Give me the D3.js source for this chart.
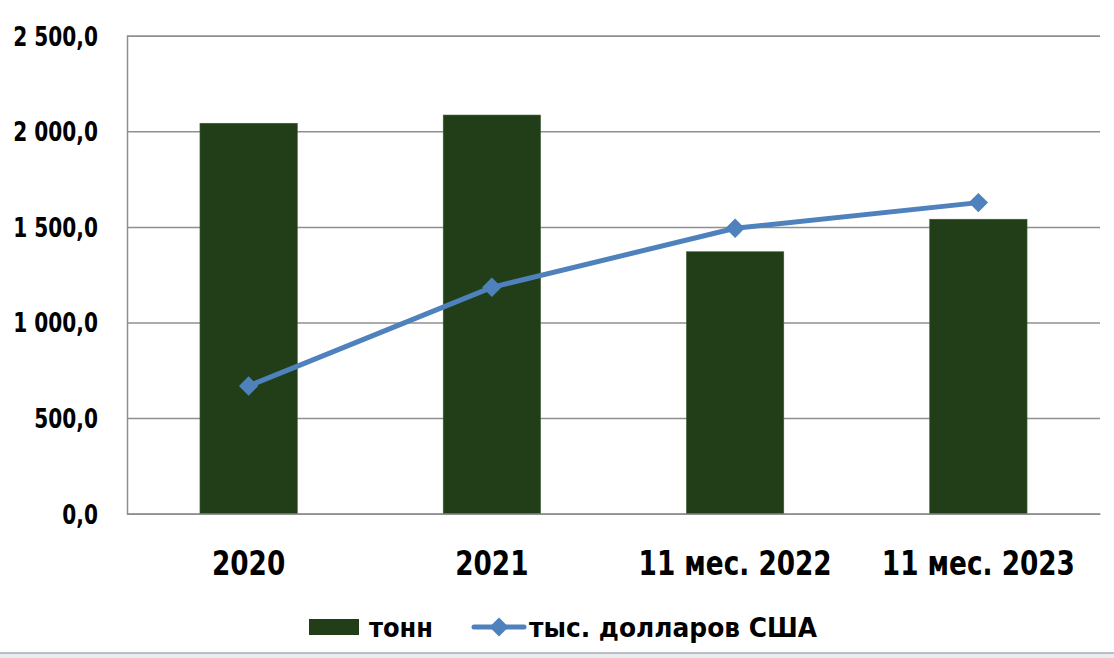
<!DOCTYPE html>
<html><head><meta charset="utf-8">
<script src="https://cdn.jsdelivr.net/npm/d3@7"></script>
<style>
html,body{margin:0;padding:0;background:#fff;}
svg{display:block;}
text{font-family:"DejaVu Sans Condensed","DejaVu Sans",sans-serif;font-weight:bold;fill:#000;}
</style></head>
<body><svg id="c" width="1114" height="658"></svg>
<script>
const categories = ["2020", "2021", "11 мес. 2022", "11 мес. 2023"];
const tonnes = [2042, 2085, 1370, 1540];
const usdThousands = [668, 1184, 1493, 1627];
const yTicks = [0, 500, 1000, 1500, 2000, 2500];
const seriesNames = ["тонн", "тыс. долларов США"];

const svg = d3.select("#c");
const W = 1114, H = 658;
const m = {left:127, right:1100, top:35.7, bottom:513.7};
const squeeze = 0.86;

const x = d3.scaleBand().domain(categories).range([m.left, m.right]).padding(0);
const y = d3.scaleLinear().domain([0, 2500]).range([m.bottom, m.top]);
const fmt = v => d3.format(",.1f")(v).replace(/,/g, " ").replace(".", ",");

function condense(sel, f){
  const k = f || squeeze;
  sel.each(function(){
    const w = this.getComputedTextLength();
    d3.select(this).attr("textLength", w*k).attr("lengthAdjust","spacingAndGlyphs");
  });
}

// bottom strip
svg.append("rect").attr("x",0).attr("y",653).attr("width",W).attr("height",5).attr("fill","#e9ecf1");
svg.append("line").attr("x1",0).attr("x2",W).attr("y1",653).attr("y2",653).attr("stroke","#a9adb3").attr("stroke-width",1.5);

// gridlines + y axis
const yAxis = d3.axisLeft(y).tickValues(yTicks).tickSize(-(m.right-m.left)).tickFormat(fmt).tickPadding(29);
const gy = svg.append("g").attr("transform",`translate(${m.left},0)`).call(yAxis);
gy.select(".domain").attr("stroke","#8f8f8f").attr("stroke-width",1.5);
gy.selectAll(".tick line").attr("stroke","#8f8f8f").attr("stroke-width",1.5);
gy.selectAll(".tick text").attr("font-size",26).attr("dy","0.36em").style("font-family",null).call(condense);

// bars
const bw = x.bandwidth()*0.4;
svg.append("g").selectAll("rect").data(tonnes).join("rect")
  .attr("x",(d,i)=>x(categories[i])+x.bandwidth()/2-bw/2)
  .attr("y",d=>y(d)).attr("width",bw).attr("height",d=>y(0)-y(d))
  .attr("fill","#213e18").attr("stroke","#3a5a30").attr("stroke-width",0.6);

// x axis
const xAxis = d3.axisBottom(x).tickSize(0).tickPadding(37);
const gx = svg.append("g").attr("transform",`translate(0,${m.bottom})`).call(xAxis);
gx.select(".domain").attr("stroke","#8f8f8f").attr("stroke-width",1.5);
gx.selectAll(".tick text").attr("font-size",34).style("font-family",null).call(condense);

// line
const lineColor = "#4f81bd";
const line = d3.line().x((d,i)=>x(categories[i])+x.bandwidth()/2).y(d=>y(d));
svg.append("path").datum(usdThousands).attr("d",line).attr("fill","none")
  .attr("stroke",lineColor).attr("stroke-width",5).attr("stroke-linejoin","round").attr("stroke-linecap","round");
const diamond = d3.symbol().type(d3.symbolDiamond2).size(240);
svg.append("g").selectAll("path").data(usdThousands).join("path")
  .attr("d",diamond)
  .attr("transform",(d,i)=>`translate(${x(categories[i])+x.bandwidth()/2},${y(d)})`)
  .attr("fill",lineColor);

// legend
const lg = svg.append("g");
lg.append("rect").attr("x",309).attr("y",619).attr("width",50).attr("height",16).attr("fill","#213e18");
lg.append("text").attr("x",369).attr("y",637).attr("font-size",26).text(seriesNames[0])
  .attr("textLength",64).attr("lengthAdjust","spacingAndGlyphs");
lg.append("line").attr("x1",474).attr("x2",524).attr("y1",627).attr("y2",627).attr("stroke",lineColor).attr("stroke-width",5).attr("stroke-linecap","round");
lg.append("path").attr("d",d3.symbol().type(d3.symbolDiamond2).size(230)).attr("transform","translate(499,627)").attr("fill",lineColor);
lg.append("text").attr("x",529).attr("y",637).attr("font-size",26).text(seriesNames[1])
  .attr("textLength",288).attr("lengthAdjust","spacingAndGlyphs");
</script></body></html>
